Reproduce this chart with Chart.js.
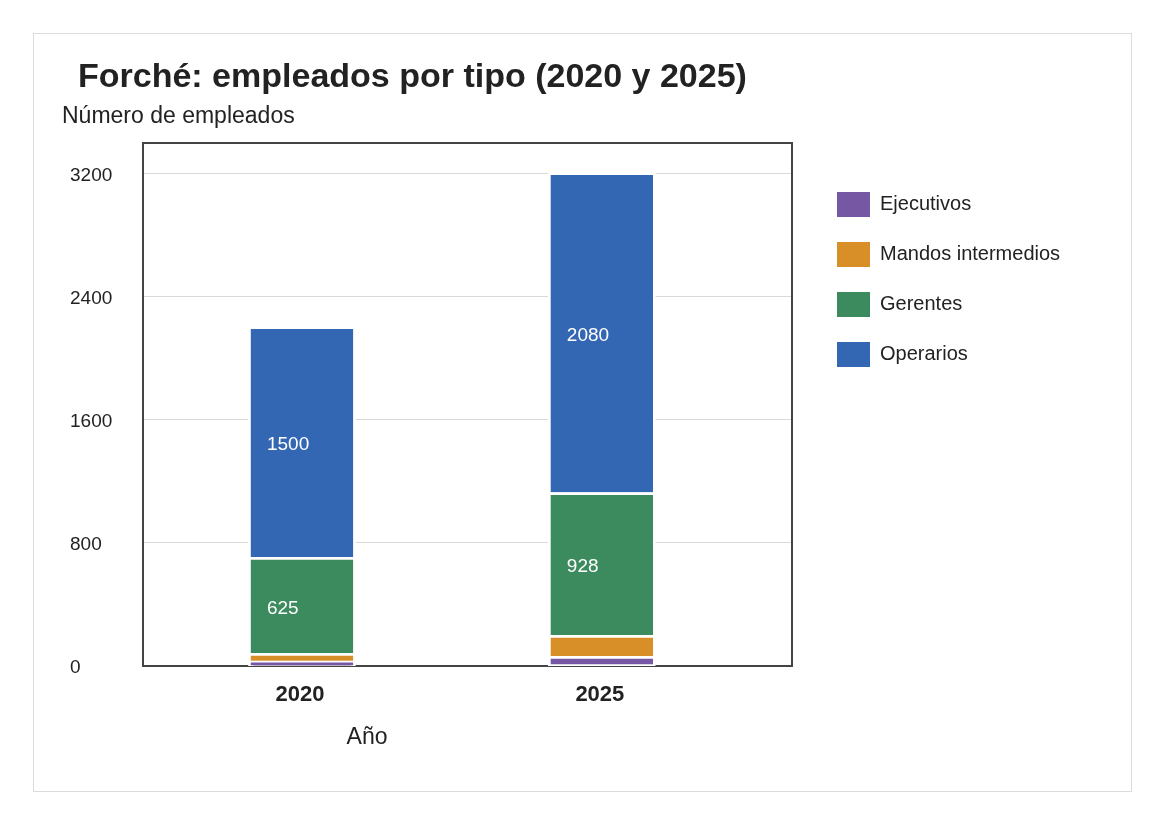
<!DOCTYPE html>
<html>
<head>
<meta charset="utf-8">
<script src="https://cdn.jsdelivr.net/npm/chart.js@4/dist/chart.umd.min.js"></script>
<style>
  body { margin: 0; background: #fff; }
  #frame { position: absolute; left: 33px; top: 33px; width: 1099px; height: 759px; box-sizing: border-box; border: 1px solid #dcdcdc; }
  #chart { position: absolute; left: 0; top: 0; }
</style>
</head>
<body>
<div id="frame"></div>
<canvas id="chart" width="1164" height="824"></canvas>
<script>
// Chart data
const years = [2020, 2025];
const ejecutivos = [25, 56];
const mandos = [50, 136];
const gerentes = [625, 928];
const operarios = [1500, 2080];
const yTicks = [0, 800, 1600, 2400, 3200];

const seriesNames = ['Ejecutivos', 'Mandos intermedios', 'Gerentes', 'Operarios'];
const seriesValues = [ejecutivos, mandos, gerentes, operarios];
const seriesColors = ['#7557a3', '#d98f27', '#3c8b5e', '#3467b3'];
const labelledSeries = [2, 3]; // values printed inside the bars

const FONT = '"Liberation Sans", Arial, sans-serif';
const TEXT = '#222222';
const LEGEND_WIDTH = 270;

// keep the legend wide enough for "Mandos intermedios"
const legendWidth = {
    id: 'legendWidth',
    afterInit(chart) {
        const legend = chart.legend;
        const fit = legend.fit;
        legend.fit = function () {
            fit.call(this);
            this.width = LEGEND_WIDTH;
        };
    }
};

// plot frame, drawn over the grid but under the bars
const framePlugin = {
    id: 'frame',
    beforeDatasetsDraw(chart) {
        const { ctx, chartArea: a } = chart;
        ctx.save();
        ctx.strokeStyle = '#444444';
        ctx.lineWidth = 2;
        ctx.strokeRect(a.left, a.top, a.right - a.left, a.bottom - a.top);
        ctx.restore();
    }
};

// values inside the big segments
const valueLabels = {
    id: 'valueLabels',
    afterDatasetsDraw(chart) {
        const ctx = chart.ctx;
        ctx.save();
        ctx.fillStyle = '#ffffff';
        ctx.font = '19px ' + FONT;
        ctx.textAlign = 'left';
        ctx.textBaseline = 'middle';
        labelledSeries.forEach(i => {
            chart.getDatasetMeta(i).data.forEach((bar, j) => {
                ctx.fillText(String(seriesValues[i][j]), bar.x - 35, (bar.y + bar.base) / 2 + 2);
            });
        });
        ctx.restore();
    }
};

// title and axis titles
const texts = {
    id: 'texts',
    afterDraw(chart) {
        const ctx = chart.ctx;
        ctx.save();
        ctx.fillStyle = TEXT;
        ctx.textBaseline = 'middle';
        ctx.textAlign = 'left';
        ctx.font = 'bold 34px ' + FONT;
        ctx.fillText('Forché: empleados por tipo (2020 y 2025)', 78, 78);
        ctx.font = '23px ' + FONT;
        ctx.fillText('Número de empleados', 62, 117);
        ctx.textAlign = 'center';
        ctx.fillText('Año', 367, 738);
        ctx.restore();
    }
};

const datasets = seriesNames.map((name, i) => ({
    label: name,
    data: years.map((y, j) => ({ x: y, y: seriesValues[i][j] })),
    backgroundColor: seriesColors[i],
    borderColor: '#ffffff',
    borderWidth: 2.7,
    borderSkipped: false,
    inflateAmount: 1.35,
    barThickness: 105,
    stack: 'all'
}));

new Chart(document.getElementById('chart'), {
    type: 'bar',
    data: { datasets },
    options: {
        responsive: false,
        animation: false,
        layout: { padding: { left: 70, top: 143, right: 82, bottom: 98 } },
        plugins: {
            tooltip: { enabled: false },
            legend: {
                position: 'right',
                align: 'start',
                fullSize: false,
                title: { display: true, text: '', padding: 0, font: { size: 20, lineHeight: 1.2 } },
                labels: {
                    boxWidth: 33,
                    boxHeight: 25,
                    padding: 25,
                    color: TEXT,
                    font: { family: FONT, size: 20 },
                    generateLabels: chart => Chart.defaults.plugins.legend.labels.generateLabels(chart)
                        .map(l => ({ ...l, lineWidth: 0 }))
                }
            }
        },
        scales: {
            x: {
                type: 'linear',
                min: 2017.35,
                max: 2028.17,
                offset: false,
                stacked: true,
                grid: { display: false, drawTicks: false },
                border: { display: false },
                afterBuildTicks: s => { s.ticks = years.map(v => ({ value: v })); },
                afterFit: s => { s.height = 60; },
                ticks: {
                    padding: 16,
                    labelOffset: -2,
                    color: TEXT,
                    font: { family: FONT, size: 22, weight: 'bold' },
                    callback: v => String(v)
                }
            },
            y: {
                min: 0,
                max: 3400,
                stacked: true,
                grid: { color: '#d9d9d9', lineWidth: 1, drawTicks: false },
                border: { display: false },
                afterBuildTicks: s => { s.ticks = yTicks.map(v => ({ value: v })); },
                afterFit: s => { s.width = 73; },
                ticks: {
                    crossAlign: 'far',
                    labelOffset: 2,
                    color: TEXT,
                    font: { family: FONT, size: 19 },
                    callback: v => String(v)
                }
            },
            y2: {
                position: 'right',
                grid: { display: false, drawTicks: false },
                border: { display: false },
                ticks: { display: false },
                afterFit: s => { s.width = 20; }
            }
        }
    },
    plugins: [legendWidth, framePlugin, valueLabels, texts]
});
</script>
</body>
</html>
